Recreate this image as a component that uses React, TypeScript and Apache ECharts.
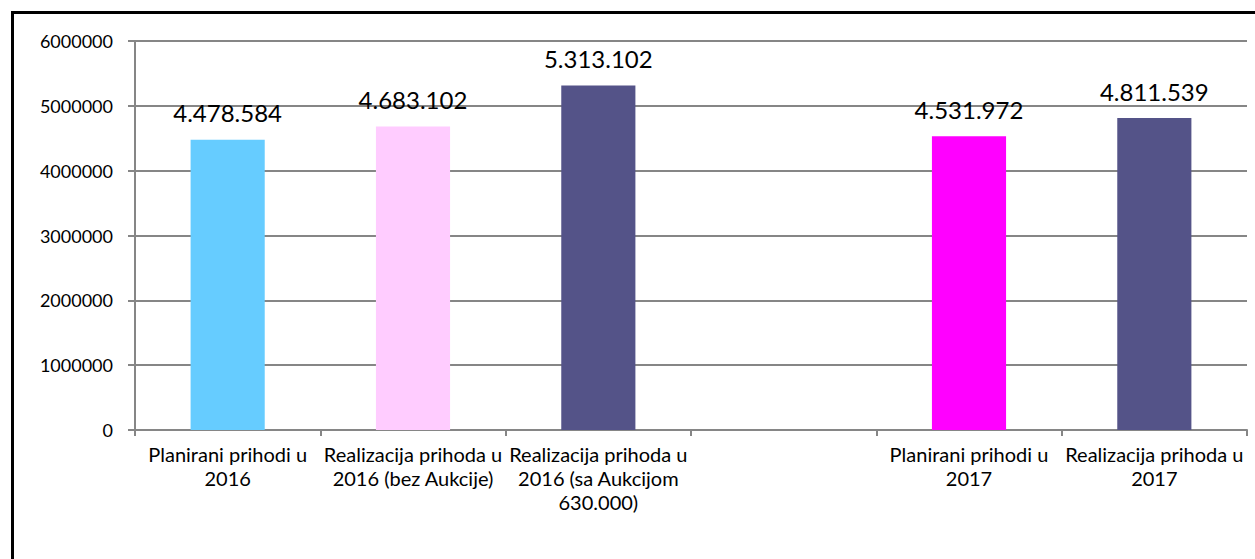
import React, { useEffect, useRef } from "react";
import * as echarts from "echarts";

const categories = [
  "Planirani prihodi u\n2016",
  "Realizacija prihoda u\n2016 (bez Aukcije)",
  "Realizacija prihoda u\n2016 (sa Aukcijom\n630.000)",
  "",
  "Planirani prihodi u\n2017",
  "Realizacija prihoda u\n2017",
];
const values: (number | null)[] = [4478584, 4683102, 5313102, null, 4531972, 4811539];
const barColors = ["#66CCFF", "#FFCCFF", "#545388", "#ffffff", "#FF00FF", "#545388"];
const yTicks = { min: 0, max: 6000000, interval: 1000000 };

const FONT = "Lato, 'Open Sans', sans-serif";

function fmt(v: number): string {
  return String(Math.round(v)).replace(/\B(?=(\d{3})+(?!\d))/g, ".");
}

export default function App() {
  const ref = useRef<HTMLDivElement>(null);
  useEffect(() => {
    document.body.style.margin = "0";
    const chart = echarts.init(ref.current!, null, { renderer: "svg" });
    chart.setOption({
      animation: false,
      backgroundColor: "#ffffff",
      graphic: [
        {
          type: "rect",
          left: 10,
          top: 10,
          shape: { x: 0, y: 0, width: 1400, height: 700 },
          style: { fill: "none", stroke: "#000000", lineWidth: 3 },
          silent: true,
          z: -1,
        },
      ],
      grid: { left: 135, right: 8, top: 41, bottom: 129, containLabel: false },
      xAxis: {
        type: "category",
        data: categories,
        axisLine: { show: true, lineStyle: { color: "#868686", width: 2 } },
        axisTick: { show: true, alignWithLabel: false, length: 6, lineStyle: { color: "#868686", width: 2 } },
        axisLabel: {
          color: "#000000",
          fontFamily: FONT,
          fontSize: 20,
          lineHeight: 24,
          margin: 12,
          interval: 0,
        },
      },
      yAxis: {
        type: "value",
        min: yTicks.min,
        max: yTicks.max,
        interval: yTicks.interval,
        axisLine: { show: true, lineStyle: { color: "#868686", width: 2 } },
        axisTick: { show: true, length: 7, lineStyle: { color: "#868686", width: 2 } },
        splitLine: { show: true, lineStyle: { color: "#868686", width: 2 } },
        axisLabel: {
          color: "#000000",
          fontFamily: FONT,
          fontSize: 18,
          margin: 22,
          formatter: (v: number) => String(v),
        },
      },
      series: [
        {
          type: "bar",
          barWidth: "40%",
          data: values.map((v, i) => ({
            value: v === null ? "-" : v,
            itemStyle: { color: barColors[i] },
          })),
          label: {
            show: true,
            position: "top",
            distance: 15,
            color: "#000000",
            fontFamily: FONT,
            fontSize: 24,
            formatter: (p: any) => (typeof p.value === "number" ? fmt(p.value) : ""),
          },
        },
      ],
    });
    return () => chart.dispose();
  }, []);
  return <div ref={ref} style={{ width: 1255, height: 559 }} />;
}
